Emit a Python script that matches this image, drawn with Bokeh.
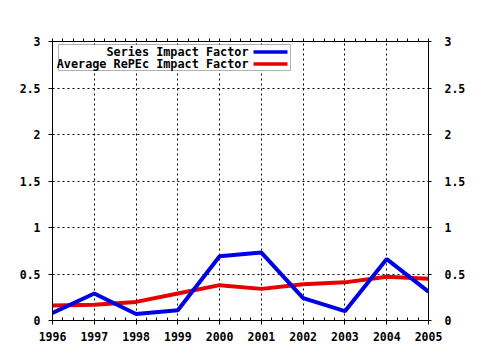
from bokeh.plotting import figure
from bokeh.models import (FixedTicker, LinearAxis, Range1d, BoxAnnotation, Label)
from bokeh.embed import file_html
from bokeh.resources import INLINE

# ---- data ----
years = [1996, 1997, 1998, 1999, 2000, 2001, 2002, 2003, 2004, 2005]
series_if = [0.08, 0.29, 0.07, 0.11, 0.69, 0.73, 0.24, 0.10, 0.66, 0.31]
average_if = [0.16, 0.17, 0.20, 0.29, 0.38, 0.34, 0.39, 0.41, 0.47, 0.45]
y_ticks = [0, 0.5, 1, 1.5, 2, 2.5, 3]
y_tick_labels = ["0", "0.5", "1", "1.5", "2", "2.5", "3"]
series_names = ["Series Impact Factor", "Average RePEc Impact Factor"]

BLUE = "#0000e6"
RED = "#e60000"
FONT = "DejaVu Sans Mono"
FS = "11.5px"
LFS = "11.8px"

p = figure(width=480, height=350, output_backend="svg", toolbar_location=None,
           x_range=Range1d(years[0], years[-1]), y_range=Range1d(0, 3),
           min_border_left=52, min_border_right=52, min_border_top=41,
           min_border_bottom=30, background_fill_color="white",
           border_fill_color="white", outline_line_color="black")

x_ticker = FixedTicker(ticks=years, minor_ticks=[y + k / 4 for y in years[:-1] for k in (1, 2, 3)])
y_ticker = FixedTicker(ticks=y_ticks)
overrides = {t: l for t, l in zip(y_ticks, y_tick_labels)}

def style(ax):
    ax.axis_line_color = "black"
    ax.major_tick_line_color = "black"
    ax.minor_tick_line_color = "black"
    ax.major_label_text_font = FONT
    ax.major_label_text_font_style = "bold"
    ax.major_label_text_font_size = FS
    ax.major_label_text_color = "black"

p.xaxis.ticker = x_ticker
p.yaxis.ticker = y_ticker
p.yaxis.major_label_overrides = overrides
style(p.xaxis[0]); style(p.yaxis[0])
p.xaxis.major_tick_in = 0; p.xaxis.major_tick_out = 4
p.xaxis.minor_tick_in = 3; p.xaxis.minor_tick_out = 0
p.xaxis.major_label_standoff = 7
p.yaxis.major_tick_in = 0; p.yaxis.major_tick_out = 4
p.yaxis.minor_tick_line_color = None
p.yaxis.major_label_standoff = 8

# top axis: ticks only, no labels
top = LinearAxis(ticker=x_ticker, major_label_overrides={y: "" for y in years})
style(top)
top.major_tick_in = 0; top.major_tick_out = 3
top.minor_tick_in = 0; top.minor_tick_out = 3
top.major_label_standoff = 0
p.add_layout(top, "above")

right = LinearAxis(ticker=y_ticker, major_label_overrides=overrides)
style(right)
right.major_tick_in = 0; right.major_tick_out = 3
right.minor_tick_line_color = None
right.major_label_standoff = 13
p.add_layout(right, "right")

p.xgrid.ticker = x_ticker
p.ygrid.ticker = y_ticker
for g in (p.xgrid[0], p.ygrid[0]):
    g.grid_line_color = "black"
    g.grid_line_dash = "2 3"
    g.grid_line_width = 1

p.line(years, average_if, line_color=RED, line_width=4)
p.line(years, series_if, line_color=BLUE, line_width=4)

# ---- legend (drawn as annotations; positions via pixel helper) ----
x0, px_per_x = 1996, 376 / 9
def dx(px):
    return x0 + (px - 52) / px_per_x
def dy(py):
    return (320 - py) / 93

p.add_layout(BoxAnnotation(left=dx(58), right=dx(290), top=dy(44), bottom=dy(70),
                           fill_color="white", fill_alpha=1, line_color="black",
                           line_width=1, level="overlay"))
for name, color, py in zip(series_names, [BLUE, RED], [51.5, 63.5]):
    p.add_layout(Label(x=dx(248), y=dy(py), text=name, text_align="right",
                       text_baseline="middle", text_font=FONT, text_font_style="bold",
                       text_font_size=LFS, text_color="black", level="overlay"))
    p.add_layout(BoxAnnotation(left=dx(253), right=dx(287), top=dy(py - 1.7),
                               bottom=dy(py + 1.7), fill_color=color, fill_alpha=1,
                               line_color=None, level="overlay"))

open("out.html", "w").write(file_html(p, INLINE))
